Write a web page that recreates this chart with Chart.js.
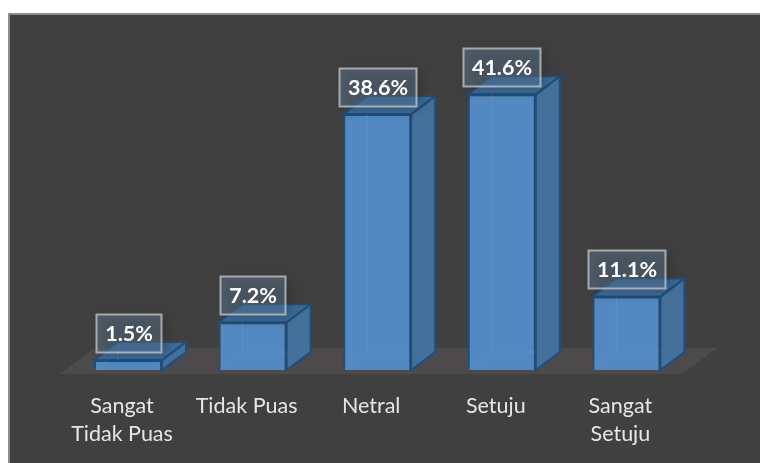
<!DOCTYPE html>
<html>
<head>
<meta charset="utf-8">
<style>
  html, body { margin: 0; padding: 0; background: #ffffff; }
  #wrap { position: relative; width: 760px; height: 463px; }
  canvas { display: block; }
</style>
<script src="https://cdn.jsdelivr.net/npm/chart.js@4"></script>
</head>
<body>
<div id="wrap"><canvas id="chart" width="760" height="463"></canvas></div>
<script>
const categories = [["Sangat", "Tidak Puas"], "Tidak Puas", "Netral", "Setuju", ["Sangat", "Setuju"]];
const shares = [1.5, 7.2, 38.6, 41.6, 11.1];
const shareLabels = ["1.5%", "7.2%", "38.6%", "41.6%", "11.1%"];

const FACE_FONT = "Lato, 'Open Sans', sans-serif";
const DEPTH_X = 24, DEPTH_Y = 18;

function poly(ctx, pts, fill, stroke, width) {
  ctx.beginPath();
  pts.forEach((p, i) => i ? ctx.lineTo(p[0], p[1]) : ctx.moveTo(p[0], p[1]));
  ctx.closePath();
  if (fill) { ctx.fillStyle = fill; ctx.fill(); }
  if (stroke) { ctx.strokeStyle = stroke; ctx.lineWidth = width || 1; ctx.stroke(); }
}

// Panel background and the receding floor under the columns.
const stagePlugin = {
  id: "stage",
  beforeDraw(chart) {
    const { ctx, chartArea } = chart;
    ctx.save();
    ctx.fillStyle = "#ffffff";
    ctx.fillRect(0, 0, chart.width, chart.height);
    ctx.fillStyle = "#8c8c8c";
    ctx.fillRect(8, 13, chart.width - 8, chart.height - 13);
    ctx.fillStyle = "#404040";
    ctx.fillRect(10, 15, chart.width - 10, chart.height - 15);
    const y = chartArea.bottom;
    poly(ctx, [
      [chartArea.left - 6, y + 4],
      [chartArea.right - 6, y + 4],
      [chartArea.right + 28, y - 22],
      [chartArea.left + 28, y - 22]
    ], "#4c4a4a");
    ctx.restore();
  }
};

// Side and top faces of each column, taken from the bar elements.
const extrudePlugin = {
  id: "extrude",
  beforeDatasetsDraw(chart) {
    const { ctx } = chart;
    ctx.save();
    chart.getDatasetMeta(0).data.forEach(bar => {
      const l = bar.x - bar.width / 2, r = bar.x + bar.width / 2;
      const t = bar.y, b = bar.base;
      const edge = "#1f4e79";
      poly(ctx, [[r, t], [r + DEPTH_X, t - DEPTH_Y], [r + DEPTH_X, b - DEPTH_Y], [r, b]], "#44719b", edge, 2);
      poly(ctx, [[l, t], [l + DEPTH_X, t - DEPTH_Y], [r + DEPTH_X, t - DEPTH_Y], [r, t]], "#3b6a97", edge, 2);
    });
    ctx.restore();
  },
  afterDatasetsDraw(chart) {
    const { ctx } = chart;
    ctx.save();
    chart.getDatasetMeta(0).data.forEach((bar, i) => {
      const l = bar.x - bar.width / 2, r = bar.x + bar.width / 2;
      const t = bar.y, b = bar.base;
      // back edges seen through the translucent front
      ctx.strokeStyle = "rgba(110,160,210,0.3)";
      ctx.lineWidth = 1;
      ctx.beginPath();
      ctx.moveTo(l, b);
      ctx.lineTo(l + DEPTH_X, b - DEPTH_Y);
      ctx.lineTo(r, b - DEPTH_Y);
      ctx.moveTo(l + DEPTH_X, b - DEPTH_Y);
      ctx.lineTo(l + DEPTH_X, t);
      ctx.stroke();

      // value label box with a soft shadow
      const text = shareLabels[i];
      const w = text.length > 4 ? 77 : 65, h = 38;
      const x0 = Math.round(bar.x - w / 2) + 0.5, y0 = Math.round(t - 8 - h) + 0.5;
      ctx.save();
      ctx.shadowColor = "rgba(0,0,0,0.55)";
      ctx.shadowBlur = 12;
      ctx.shadowOffsetX = 4;
      ctx.shadowOffsetY = 2;
      ctx.fillStyle = "rgba(104,136,168,0.38)";
      ctx.fillRect(x0, y0, w, h);
      ctx.restore();
      ctx.strokeStyle = "rgba(190,195,200,0.8)";
      ctx.lineWidth = 2;
      ctx.strokeRect(x0, y0, w, h);
      ctx.fillStyle = "#ffffff";
      ctx.font = "bold 21.5px " + FACE_FONT;
      ctx.textAlign = "center";
      ctx.textBaseline = "middle";
      ctx.fillText(text, x0 + w / 2, y0 + h / 2 + 1);
    });
    ctx.restore();
  }
};

new Chart(document.getElementById("chart"), {
  type: "bar",
  data: {
    labels: categories,
    datasets: [{
      data: shares,
      backgroundColor: "#5289c2",
      borderColor: "#1f4e79",
      borderWidth: 2,
      barPercentage: 0.546,
      categoryPercentage: 1
    }]
  },
  plugins: [stagePlugin, extrudePlugin],
  options: {
    responsive: false,
    animation: false,
    layout: { padding: { left: 65.7, right: 71.3, top: 38.5, bottom: 0 } },
    plugins: { legend: { display: false }, tooltip: { enabled: false } },
    scales: {
      y: { display: false, min: 0, max: 50 },
      x: {
        afterFit(scale) { scale.height = 93; },
        grid: { display: false },
        border: { display: false },
        ticks: {
          color: "#e6e6e6",
          font: { family: FACE_FONT, size: 21.5, lineHeight: 1.3 },
          padding: 14,
          labelOffset: -6,
          maxRotation: 0,
          minRotation: 0,
          autoSkip: false
        }
      }
    }
  }
});
</script>
</body>
</html>
